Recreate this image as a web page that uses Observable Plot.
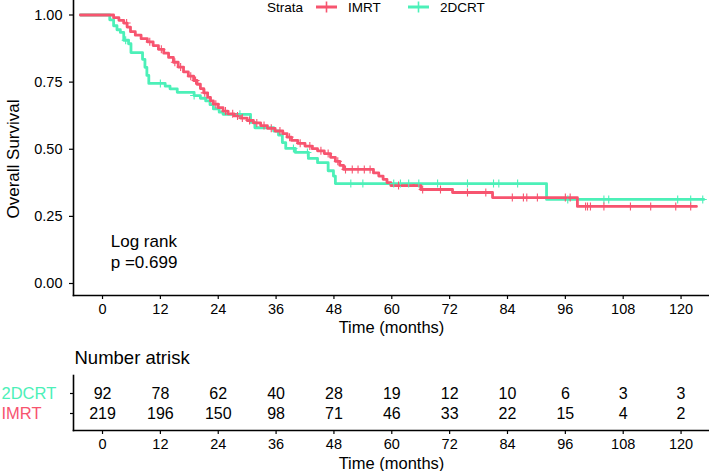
<!DOCTYPE html>
<html><head><meta charset="utf-8">
<script src="https://cdn.jsdelivr.net/npm/d3@7"></script>
<script src="https://cdn.jsdelivr.net/npm/@observablehq/plot@0.6"></script>
<style>
body{margin:0;background:#fff;font-family:"Liberation Sans",Arial,sans-serif;}
#wrap{position:relative;width:709px;height:471px;overflow:hidden;}
#wrap svg{display:block;}
#legend{position:absolute;left:0;top:0;}
#wrap g[aria-label$="tick label"], #wrap g[aria-label$="tick label"] text{font-size:14.5px !important;}
</style></head><body><div id="wrap"></div>
<script>
const strata = ["IMRT", "2DCRT"];
const colors = ["#F7546F", "#4CF0B8"];

// Kaplan-Meier step curves (time in months, survival)
const imrtTime = [-4.6,2.3,3.4,4.4,5.1,5.8,6.8,8,9.3,10.5,11.6,12.7,13.7,14.7,15.7,16.8,17.8,18.9,19.6,20.3,21,21.8,22.4,23,24,25,26,27.3,28.6,30,31.3,32.8,34.2,35.8,37.4,38.3,39.2,40.5,42,43.5,44.6,46,47.3,48.3,49.2,50,56.2,57.3,58.2,59,59.8,66,72.6,80.9,98.5,123.2];
const imrtSurv = [1,0.99,0.98,0.97,0.955,0.938,0.925,0.912,0.9,0.886,0.872,0.858,0.842,0.824,0.806,0.788,0.772,0.756,0.742,0.726,0.71,0.693,0.68,0.668,0.655,0.642,0.632,0.624,0.616,0.607,0.598,0.588,0.578,0.568,0.558,0.545,0.533,0.522,0.512,0.502,0.494,0.484,0.47,0.455,0.44,0.425,0.412,0.4,0.388,0.376,0.365,0.35,0.339,0.32,0.287,0.287];
const crtTime = [-4.6,1.5,2.3,3,3.7,4.4,5.4,5.9,8.3,8.8,9.2,9.6,13,14,15.5,19,20.3,21.4,22.3,23,24.2,25,30.7,31.6,35.5,36.5,37.3,38,40,42.7,44.6,46.8,47.9,48.3,92.1,124.7];
const crtSurv = [1,0.982,0.96,0.945,0.935,0.906,0.893,0.86,0.835,0.805,0.775,0.745,0.735,0.725,0.712,0.7,0.69,0.68,0.666,0.65,0.638,0.63,0.6,0.58,0.568,0.553,0.525,0.503,0.488,0.466,0.45,0.42,0.4,0.372,0.313,0.313];

// censoring times
const imrtCensor = [5,9.8,12.2,15,16.2,18.3,19.3,21.2,23.5,25.5,27,28,29,30.5,32,33.5,35,36.8,38.8,41,43,45.3,46.8,48.8,50.4,51.8,53,54.3,55.5,61.4,66.4,70.1,75.7,79.5,85,87.3,88,90.2,96,97,100.2,100.6,101.2,104,109.5,113.7,118.9,122];
const crtCensor = [4.8,12,19,28.5,39.6,42.5,51.5,54,60.4,61.8,63.5,65.6,69.5,75.7,81.1,82.2,86.1,96.5,104,105,119.3,122,124.5];

// number at risk
const riskTimes = [0,12,24,36,48,60,72,84,96,108,120];
const riskIMRT = [219,196,150,98,71,46,33,22,15,4,2];
const risk2DCRT = [92,78,62,40,28,19,12,10,6,3,3];
const yTicks = [0,0.25,0.5,0.75,1];
const pText = "Log rank\np =0.699";

// build tables
function steps(times, surv, s){ return times.map((t,i)=>({time:t, surv:surv[i], strata:s})); }
function survAt(times, surv, t){ let v = surv[0]; for (let i=0;i<times.length;i++){ if (times[i] <= t) v = surv[i]; } return v; }
const curves = [...steps(crtTime, crtSurv, "2DCRT"), ...steps(imrtTime, imrtSurv, "IMRT")];
const censors = [
  ...crtCensor.map(t=>({time:t, surv:survAt(crtTime, crtSurv, t), strata:"2DCRT"})),
  ...imrtCensor.map(t=>({time:t, surv:survAt(imrtTime, imrtSurv, t), strata:"IMRT"}))
];
const riskRows = [
  ...riskTimes.map((t,i)=>({time:t, n:risk2DCRT[i], strata:"2DCRT"})),
  ...riskTimes.map((t,i)=>({time:t, n:riskIMRT[i], strata:"IMRT"}))
];

const font = "Liberation Sans, Arial, Helvetica, sans-serif";
const xDomain = [-6.02, 125.9];

const main = Plot.plot({
  width: 709, height: 340,
  marginLeft: 73, marginRight: 0, marginTop: 0, marginBottom: 45,
  style: {fontFamily: font, fontSize: "14px", color: "black", background: "white", overflow: "visible"},
  x: {domain: xDomain},
  y: {domain: [-0.0447, 1.054]},
  color: {domain: strata, range: colors},
  marks: [
    Plot.frame({anchor: "left", stroke: "black", strokeWidth: 1.6}),
    Plot.frame({anchor: "bottom", stroke: "black", strokeWidth: 1.6}),
    Plot.axisY({ticks: yTicks, tickFormat: d3.format(".2f"), tickSize: 4, tickPadding: 7, label: null, strokeWidth: 1.2}),
    Plot.axisX({ticks: riskTimes, tickSize: 4, tickPadding: 4, label: null, strokeWidth: 1.2}),
    Plot.text(["Overall Survival"], {frameAnchor: "left", textAnchor: "middle", lineAnchor: "middle", rotate: -90, dx: -60, dy: 11, fontSize: 17}),
    Plot.text(["Time (months)"], {frameAnchor: "bottom", lineAnchor: "middle", dy: 32, fontSize: 16.5}),
    Plot.line(curves, {x: "time", y: "surv", z: "strata", stroke: "strata", curve: "step-after", strokeWidth: 2.8}),
    Plot.dot(censors, {x: "time", y: "surv", stroke: "strata", symbol: "plus", r: 2.7, strokeWidth: 1.1}),
    Plot.text([pText], {x: 1.7, y: 0.121, textAnchor: "start", fontSize: 17, lineHeight: 1.25})
  ]
});

const table = Plot.plot({
  width: 709, height: 131,
  marginLeft: 73, marginRight: 0, marginTop: 35, marginBottom: 41,
  style: {fontFamily: font, fontSize: "14px", color: "black", background: "white", overflow: "visible"},
  x: {domain: xDomain},
  y: {type: "point", domain: ["2DCRT", "IMRT"], padding: 0.81},
  color: {domain: strata, range: colors},
  marks: [
    Plot.frame({anchor: "left", stroke: "black", strokeWidth: 1.6}),
    Plot.frame({anchor: "bottom", stroke: "black", strokeWidth: 1.6}),
    Plot.axisY({tickSize: 3, tickFormat: () => "", label: null, strokeWidth: 1.2}),
    Plot.axisX({ticks: riskTimes, tickSize: 4, tickPadding: 4, label: null, strokeWidth: 1.2}),
    Plot.text(riskRows, {x: "time", y: "strata", text: "n", fontSize: 16}),
    Plot.text(["2DCRT", "IMRT"], {y: d => d, frameAnchor: "left", dx: -72, textAnchor: "start", lineAnchor: "middle", fill: d => d, fontSize: 16.5}),
    Plot.text(["Number atrisk"], {frameAnchor: "top-left", dx: 1, dy: -17, textAnchor: "start", lineAnchor: "middle", fontSize: 18.5}),
    Plot.text(["Time (months)"], {frameAnchor: "bottom", lineAnchor: "middle", dy: 33, fontSize: 16.5})
  ]
});

const wrap = document.getElementById("wrap");
wrap.appendChild(main);
wrap.appendChild(table);

// legend overlay
const leg = d3.select(wrap).append("svg").attr("id", "legend").attr("width", 709).attr("height", 26)
  .style("font-family", font).style("font-size", "13.5px");
leg.append("text").attr("x", 267).attr("y", 7.5).attr("dy", "0.35em").text("Strata");
const keyX = [316, 408];
strata.forEach((s, i) => {
  const g = leg.append("g").attr("transform", `translate(${keyX[i]},7)`);
  g.append("line").attr("x1", 0).attr("x2", 21).attr("stroke", colors[i]).attr("stroke-width", 3);
  g.append("line").attr("x1", 10.5).attr("x2", 10.5).attr("y1", -5.5).attr("y2", 5.5).attr("stroke", colors[i]).attr("stroke-width", 1.6);
  g.append("text").attr("x", 32).attr("y", 0.5).attr("dy", "0.35em").text(s);
});
</script></body></html>
